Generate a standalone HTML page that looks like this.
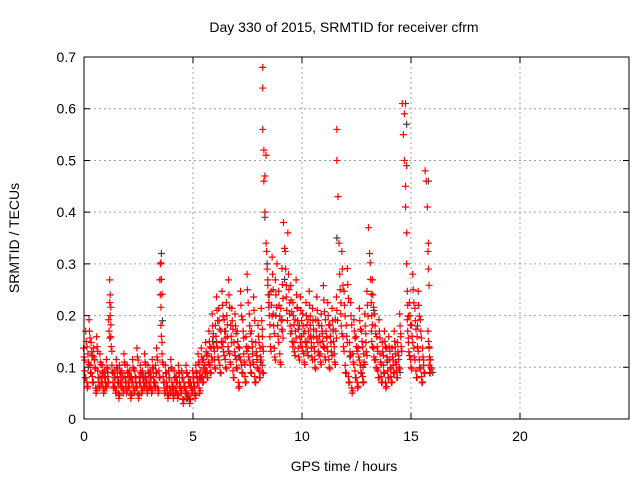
<!DOCTYPE html>
<html><head><meta charset="utf-8"><style>
body{margin:0;background:#fff}
svg{display:block;font-family:"Liberation Sans",sans-serif}
</style></head><body>
<svg id="chart" width="640" height="480">
<text x="344" y="32" font-size="14" text-anchor="middle">Day 330 of 2015, SRMTID for receiver cfrm</text>
<text x="344" y="471" font-size="14" text-anchor="middle">GPS time / hours</text>
<text transform="translate(19,238) rotate(-90)" font-size="14" text-anchor="middle">SRMTID / TECUs</text>
<g id="grid"></g><g id="ticks"></g><g id="gray"></g><g id="red"></g>
<rect x="84" y="57" width="545" height="362" fill="none" stroke="#000" stroke-width="1"/>
</svg>
<script>
const xTicks=[0,5,10,15,20,25];
const xLabels=["0","5","10","15","20",""];
const yTicks=[0,0.1,0.2,0.3,0.4,0.5,0.6,0.7];
const yLabels=["0","0.1","0.2","0.3","0.4","0.5","0.6","0.7"];
const redT=[0,0.05,0.1,0.15,0.2,0.25,0.3,0.35,0.4,0.45,0.5,0.55,0.6,0.65,0.7,0.75,0.8,0.85,0.9,0.95,1,1.05,1.1,1.15,1.2,1.2,1.25,1.3,1.35,1.4,1.45,1.5,1.55,1.6,1.65,1.7,1.75,1.8,1.85,1.9,1.95,2,2.05,2.1,2.15,2.2,2.25,2.3,2.35,2.4,2.45,2.5,2.55,2.6,2.65,2.7,2.75,2.8,2.85,2.9,2.95,3,3.05,3.1,3.15,3.2,3.25,3.3,3.35,3.4,3.45,3.5,3.5,3.55,3.55,3.6,3.65,3.7,3.75,3.8,3.85,3.9,3.95,4,4.05,4.1,4.15,4.2,4.25,4.3,4.35,4.4,4.45,4.5,4.55,4.6,4.65,4.7,4.75,4.8,4.85,4.9,4.95,5,5.05,5.1,5.15,5.2,5.25,5.3,5.35,5.4,5.45,5.5,5.55,5.6,5.65,5.7,5.75,5.8,5.85,5.9,5.95,6,6.05,6.1,6.15,6.2,6.25,6.3,6.35,6.4,6.45,6.5,6.55,6.6,6.65,6.7,6.75,6.8,6.85,6.9,6.95,7,7.05,7.1,7.15,7.2,7.25,7.3,7.35,7.4,7.45,7.5,7.55,7.6,7.65,7.7,7.75,7.8,7.85,7.9,7.95,8,8.05,8.1,8.15,8.2,8.2,8.2,8.2,8.2,8.25,8.25,8.3,8.3,8.35,8.35,8.4,8.45,8.5,8.55,8.6,8.65,8.7,8.75,8.8,8.85,8.9,8.95,9,9.05,9.1,9.1,9.15,9.2,9.25,9.3,9.35,9.4,9.45,9.5,9.55,9.6,9.65,9.7,9.75,9.8,9.85,9.9,9.95,10,10.05,10.1,10.15,10.2,10.25,10.3,10.35,10.4,10.45,10.5,10.55,10.6,10.65,10.7,10.75,10.8,10.85,10.9,10.95,11,11.05,11.1,11.15,11.2,11.25,11.3,11.35,11.4,11.45,11.5,11.55,11.6,11.6,11.6,11.65,11.7,11.75,11.8,11.85,11.9,11.95,12,12.05,12.1,12.15,12.2,12.25,12.3,12.35,12.4,12.45,12.5,12.55,12.6,12.65,12.7,12.75,12.8,12.85,12.9,12.95,13,13.05,13.1,13.15,13.2,13.2,13.25,13.3,13.35,13.4,13.45,13.5,13.55,13.6,13.65,13.7,13.75,13.8,13.85,13.9,13.95,14,14.05,14.1,14.15,14.2,14.25,14.3,14.35,14.4,14.45,14.5,14.55,14.6,14.65,14.7,14.7,14.75,14.75,14.8,14.8,14.8,14.85,14.85,14.9,14.95,15,15.05,15.1,15.15,15.2,15.25,15.3,15.35,15.4,15.45,15.5,15.55,15.6,15.65,15.7,15.75,15.8,15.8,15.8,15.85,15.85,15.9,15.95,16,16.05];
const redV=[0.12,0.08,0.15,0.06,0.11,0.17,0.09,0.13,0.07,0.12,0.10,0.05,0.14,0.08,0.06,0.11,0.07,0.09,0.05,0.08,0.06,0.10,0.07,0.17,0.24,0.20,0.14,0.09,0.06,0.08,0.05,0.10,0.07,0.04,0.09,0.06,0.08,0.05,0.11,0.07,0.05,0.09,0.06,0.08,0.04,0.07,0.10,0.05,0.08,0.06,0.12,0.04,0.07,0.09,0.05,0.08,0.06,0.11,0.07,0.05,0.09,0.06,0.08,0.05,0.10,0.07,0.06,0.09,0.12,0.05,0.08,0.30,0.24,0.27,0.16,0.11,0.07,0.05,0.09,0.06,0.04,0.08,0.05,0.10,0.06,0.04,0.08,0.05,0.07,0.04,0.09,0.06,0.05,0.08,0.03,0.06,0.05,0.09,0.04,0.07,0.03,0.06,0.05,0.08,0.06,0.04,0.09,0.07,0.11,0.05,0.08,0.12,0.07,0.10,0.09,0.13,0.08,0.11,0.15,0.09,0.12,0.18,0.14,0.10,0.16,0.21,0.12,0.19,0.09,0.15,0.22,0.13,0.17,0.10,0.20,0.14,0.24,0.11,0.16,0.19,0.08,0.13,0.18,0.10,0.15,0.06,0.12,0.22,0.09,0.17,0.11,0.07,0.14,0.25,0.12,0.18,0.09,0.15,0.11,0.21,0.07,0.13,0.10,0.16,0.08,0.12,0.19,0.09,0.14,0.68,0.64,0.56,0.52,0.46,0.47,0.40,0.51,0.34,0.29,0.24,0.20,0.14,0.22,0.28,0.18,0.12,0.24,0.30,0.16,0.22,0.11,0.19,0.26,0.17,0.38,0.33,0.29,0.21,0.36,0.25,0.18,0.23,0.15,0.20,0.13,0.17,0.24,0.19,0.12,0.16,0.21,0.14,0.18,0.11,0.15,0.20,0.13,0.17,0.22,0.16,0.12,0.19,0.14,0.10,0.17,0.21,0.13,0.16,0.11,0.18,0.15,0.23,0.12,0.17,0.14,0.20,0.10,0.16,0.13,0.19,0.15,0.11,0.17,0.21,0.56,0.50,0.43,0.34,0.25,0.18,0.29,0.14,0.22,0.09,0.16,0.26,0.07,0.13,0.20,0.05,0.11,0.17,0.08,0.14,0.06,0.12,0.19,0.09,0.15,0.07,0.11,0.18,0.13,0.22,0.37,0.32,0.27,0.20,0.15,0.24,0.12,0.18,0.10,0.14,0.08,0.17,0.11,0.07,0.13,0.09,0.15,0.06,0.12,0.08,0.14,0.10,0.07,0.12,0.09,0.15,0.11,0.08,0.13,0.10,0.18,0.14,0.61,0.55,0.59,0.50,0.45,0.41,0.36,0.49,0.30,0.22,0.17,0.13,0.20,0.10,0.16,0.25,0.12,0.19,0.08,0.14,0.22,0.10,0.17,0.07,0.12,0.09,0.48,0.46,0.41,0.34,0.29,0.15,0.09,0.12,0.10];
const grayT=[0.2,0.6,1.1,1.6,2.2,2.8,3.3,3.55,3.6,4.1,4.7,5.3,5.9,6.5,7.1,7.6,8.1,8.3,8.4,8.5,8.8,9.2,9.8,10.4,11.0,11.6,12.2,12.8,13.3,13.9,14.5,14.75,14.8,15.3,15.8,16.0];
const grayV=[0.10,0.06,0.09,0.07,0.05,0.08,0.07,0.32,0.19,0.06,0.04,0.08,0.15,0.17,0.12,0.18,0.11,0.39,0.30,0.24,0.20,0.27,0.19,0.16,0.14,0.35,0.12,0.10,0.21,0.11,0.09,0.61,0.57,0.18,0.46,0.09];
const X=t=>84+t*21.8, Y=v=>419-v*517.1;
const NS="http://www.w3.org/2000/svg";
const mk=(p,tag,a)=>{const e=document.createElementNS(NS,tag);for(const k in a)e.setAttribute(k,a[k]);document.getElementById(p).appendChild(e);return e;};
xTicks.forEach((t,i)=>{
  if(t>0&&t<25){const g=mk('grid','line',{x1:X(t),x2:X(t),y1:57,y2:419,stroke:'#a0a0a0','stroke-dasharray':'2,3'});
  
  }
  const tk=mk('ticks','path',{d:`M${X(t)},419v-6M${X(t)},57v6`,stroke:'#000'});
  
  
  const l=mk('ticks','text',{x:X(t),y:441,'font-size':14,'text-anchor':'middle'});l.textContent=xLabels[i];
  
  
});
yTicks.forEach((v,i)=>{
  if(v>0&&v<0.7){const g=mk('grid','line',{x1:84,x2:629,y1:Y(v),y2:Y(v),stroke:'#a0a0a0','stroke-dasharray':'2,3'});
  
  }
  const tk=mk('ticks','path',{d:`M84,${Y(v)}h6M629,${Y(v)}h-6`,stroke:'#000'});
  
  
  const l=mk('ticks','text',{x:76,y:Y(v)+5,'font-size':14,'text-anchor':'end'});l.textContent=yLabels[i];
  
  
});
function plus(g,t,v,c,name){
  const e=mk(g,'path',{d:`M${X(t)-3.5},${Y(v)}h7M${X(t)},${Y(v)-3.5}v7`,stroke:c,'stroke-width':1.2});
  
  
}
grayT.forEach((t,i)=>plus('gray',t,grayV[i],'#404040','gray-point'));
redT.forEach((t,i)=>{plus('red',t,redV[i],'#ff0000','red-point');});
redT.forEach((t,i)=>{if(redV[i]<0.3)plus('red',t+0.03,redV[i]*0.85+0.012,'#ff0000','red-point');});
redT.forEach((t,i)=>{if(redV[i]<0.3)plus('red',t-0.02,redV[i]*1.1+0.005,'#ff0000','red-point');});
</script>
</body></html>
